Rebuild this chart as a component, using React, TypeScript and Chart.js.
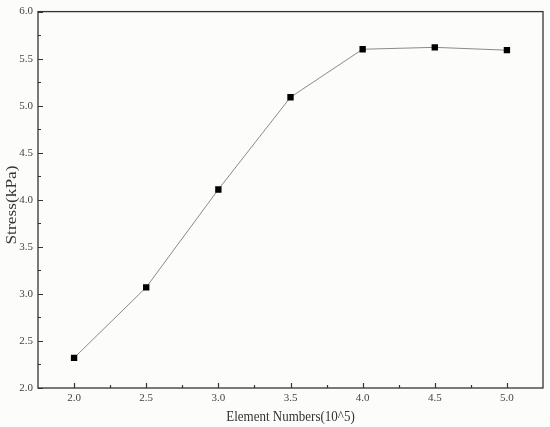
import React, { useEffect, useRef } from "react";
import { Chart, registerables } from "chart.js";

Chart.register(...registerables);

const elementNumbers = [2.0, 2.5, 3.0, 3.5, 4.0, 4.5, 5.0];
const stressValues = [2.32, 3.07, 4.11, 5.09, 5.6, 5.62, 5.59];
const xTickValues = [2.0, 2.5, 3.0, 3.5, 4.0, 4.5, 5.0];
const yTickValues = [2.0, 2.5, 3.0, 3.5, 4.0, 4.5, 5.0, 5.5, 6.0];
const xMinorTicks = [2.25, 2.75, 3.25, 3.75, 4.25, 4.75];
const yMinorTicks = [2.25, 2.75, 3.25, 3.75, 4.25, 4.75, 5.25, 5.75];
const xTitle = "Element Numbers(10^5)";
const yTitle = "Stress(kPa)";

const FONT = "'Liberation Serif', 'DejaVu Serif', serif";

const framePlugin = {
  id: "frame",
  afterDraw(chart: any) {
    const { ctx, chartArea } = chart;
    const { left, right, top, bottom } = chartArea;
    const xs = chart.scales.x;
    const ys = chart.scales.y;
    ctx.save();
    ctx.strokeStyle = "#333";
    ctx.lineWidth = 1.3;
    ctx.strokeRect(left, top, right - left, bottom - top);
    ctx.lineWidth = 1.2;
    ctx.beginPath();
    xTickValues.forEach((v) => {
      const px = Math.round(xs.getPixelForValue(v)) + 0.5;
      ctx.moveTo(px, bottom);
      ctx.lineTo(px, bottom - 5);
    });
    xMinorTicks.forEach((v) => {
      const px = Math.round(xs.getPixelForValue(v)) + 0.5;
      ctx.moveTo(px, bottom);
      ctx.lineTo(px, bottom - 3);
    });
    yTickValues.forEach((v) => {
      const py = Math.round(ys.getPixelForValue(v)) + 0.5;
      ctx.moveTo(left, py);
      ctx.lineTo(left + 5, py);
    });
    yMinorTicks.forEach((v) => {
      const py = Math.round(ys.getPixelForValue(v)) + 0.5;
      ctx.moveTo(left, py);
      ctx.lineTo(left + 3, py);
    });
    ctx.stroke();

    // axis titles (slightly stretched like the reference)
    ctx.fillStyle = "#333";
    ctx.textAlign = "center";
    ctx.textBaseline = "alphabetic";
    ctx.font = `13px ${FONT}`;
    ctx.save();
    ctx.translate((left + right) / 2, 421);
    ctx.scale(1, 1.2);
    ctx.fillText(xTitle, 0, 0);
    ctx.restore();

    ctx.font = `14px ${FONT}`;
    ctx.save();
    ctx.translate(15.7, 205);
    ctx.rotate(-Math.PI / 2);
    ctx.scale(1.24, 1);
    ctx.fillText(yTitle, 0, 0);
    ctx.restore();

    ctx.restore();
  },
};

const bgPlugin = {
  id: "bg",
  beforeDraw(chart: any) {
    const { ctx, width, height } = chart;
    ctx.save();
    ctx.fillStyle = "#fcfcfa";
    ctx.fillRect(0, 0, width, height);
    ctx.restore();
  },
};

export default function App() {
  const ref = useRef<HTMLCanvasElement | null>(null);

  useEffect(() => {
    if (!ref.current) return;
    const chart = new Chart(ref.current, {
      type: "scatter",
      data: {
        datasets: [
          {
            data: elementNumbers.map((x, i) => ({ x, y: stressValues[i] })),
            showLine: true,
            borderColor: "#8a8a8a",
            borderWidth: 1,
            pointStyle: "rect",
            pointRadius: 4.5,
            pointBorderWidth: 0,
            pointBackgroundColor: "#000",
            pointBorderColor: "#000",
          },
        ],
      },
      options: {
        animation: false,
        responsive: false,
        maintainAspectRatio: false,
        layout: { padding: { top: 9, right: 7, left: 0, bottom: 0 } },
        plugins: {
          legend: { display: false },
          tooltip: { enabled: false },
        },
        scales: {
          x: {
            type: "linear",
            min: 1.75,
            max: 5.25,
            grid: { display: false, drawTicks: false },
            border: { display: false },
            afterBuildTicks: (scale: any) => {
              scale.ticks = xTickValues.map((v) => ({ value: v }));
            },
            afterFit: (scale: any) => {
              scale.height = 39;
            },
            ticks: {
              padding: 4,
              color: "#444",
              font: { family: FONT, size: 11 },
              maxRotation: 0,
              callback: (v: any) => Number(v).toFixed(1),
            },
            title: { display: false, text: xTitle },
          },
          y: {
            type: "linear",
            min: 2.0,
            max: 6.0,
            grid: { display: false, drawTicks: false },
            border: { display: false },
            afterBuildTicks: (scale: any) => {
              scale.ticks = yTickValues.map((v) => ({ value: v }));
            },
            afterFit: (scale: any) => {
              scale.width = 38;
            },
            ticks: {
              padding: 5,
              color: "#444",
              font: { family: FONT, size: 11 },
              callback: (v: any) => Number(v).toFixed(1),
            },
            title: { display: false, text: yTitle },
          },
        },
      },
      plugins: [bgPlugin, framePlugin],
    });
    return () => chart.destroy();
  }, []);

  return (
    <div style={{ position: "fixed", left: 0, top: 0, width: 550, height: 427 }}>
      <canvas ref={ref} width={550} height={427} style={{ width: 550, height: 427 }} />
    </div>
  );
}
